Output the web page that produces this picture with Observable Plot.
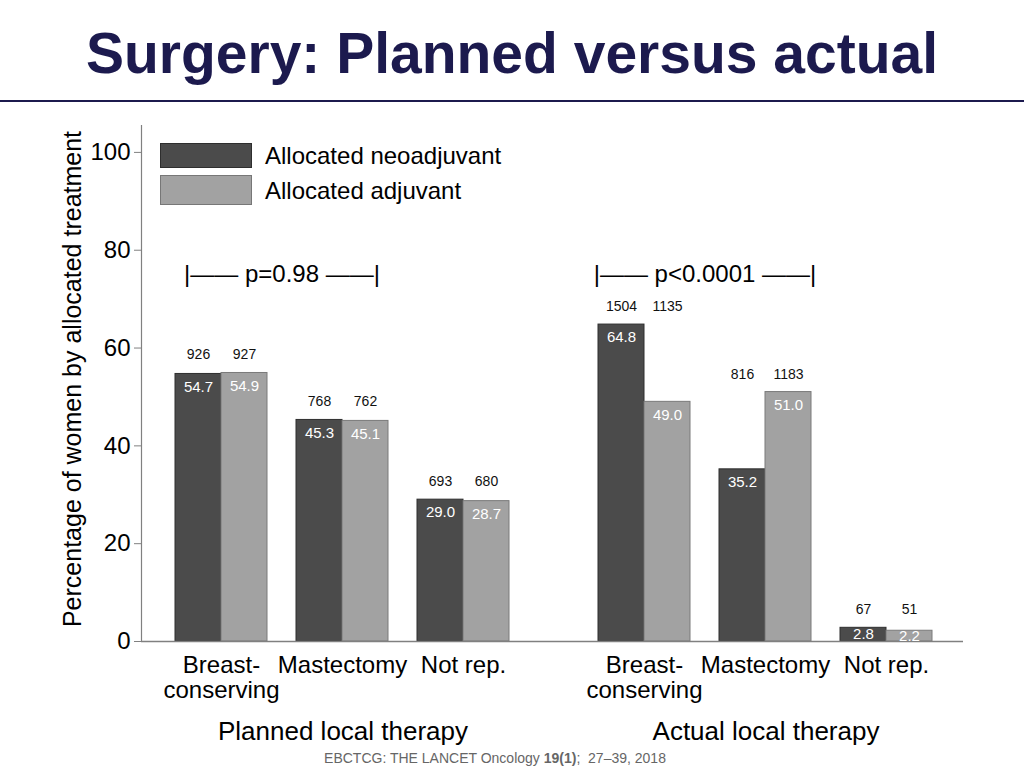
<!DOCTYPE html>
<html><head><meta charset="utf-8">
<script src="https://cdn.jsdelivr.net/npm/d3@7"></script>
<script src="https://cdn.jsdelivr.net/npm/@observablehq/plot@0.6"></script>
<style>
body{margin:0;background:#fff;font-family:"Liberation Sans",Arial,sans-serif;}
#page{position:relative;width:1024px;height:768px;overflow:hidden;background:#fff;}
#chart{position:absolute;left:0;top:0;}
#title{position:absolute;left:0;top:21px;width:1024px;text-align:center;font-size:57px;font-weight:bold;color:#1c1a4e;line-height:64px;}
#hr{position:absolute;left:0;top:100px;width:1024px;height:2px;background:#1c1a4e;}
#ylabel{position:absolute;left:-188px;top:364px;width:520px;height:30px;line-height:30px;text-align:center;font-size:25px;color:#000;transform:rotate(-90deg);transform-origin:50% 50%;white-space:nowrap;}
.lg-box{position:absolute;left:160px;width:92px;box-sizing:border-box;}
.lg-txt{position:absolute;left:265px;font-size:24px;line-height:28px;color:#000;white-space:nowrap;}
#caption{position:absolute;left:0;top:750px;width:990px;text-align:center;font-size:14px;line-height:16px;color:#666;}
</style>
</head><body>
<div id="page">
  <div id="chart"></div>
  <div id="title">Surgery: Planned versus actual</div>
  <div id="hr"></div>
  <div id="ylabel">Percentage of women by allocated treatment</div>
  <div class="lg-box" style="top:143px;height:25px;background:#4b4b4b;border:1px solid #2e2e2e;"></div>
  <div class="lg-box" style="top:175px;height:30px;background:#a2a2a2;border:1px solid #777;"></div>
  <div class="lg-txt" style="top:142px;">Allocated neoadjuvant</div>
  <div class="lg-txt" style="top:177px;">Allocated adjuvant</div>
  <div id="caption">EBCTCG: THE LANCET Oncology <b>19(1)</b>;&nbsp; 27–39, 2018</div>
</div>
<script>
// ---- data ----
const groups = ["Planned local therapy", "Actual local therapy"];
const categories = ["Breast-\nconserving", "Mastectomy", "Not rep."];
const seriesNames = ["Allocated neoadjuvant", "Allocated adjuvant"];
const plannedNeo = [54.7, 45.3, 29.0];
const plannedAdj = [54.9, 45.1, 28.7];
const actualNeo = [64.8, 35.2, 2.8];
const actualAdj = [49.0, 51.0, 2.2];
const plannedNeoN = [926, 768, 693];
const plannedAdjN = [927, 762, 680];
const actualNeoN = [1504, 816, 67];
const actualAdjN = [1135, 1183, 51];
const pValues = ["p=0.98", "p<0.0001"];
const yTicks = [0, 20, 40, 60, 80, 100];

// ---- build table ----
const pct = [[plannedNeo, plannedAdj], [actualNeo, actualAdj]];
const cnt = [[plannedNeoN, plannedAdjN], [actualNeoN, actualAdjN]];
const rows = [];
groups.forEach((g, gi) => {
  categories.forEach((c, ci) => {
    const pairMax = Math.max(pct[gi][0][ci], pct[gi][1][ci]);
    seriesNames.forEach((s, si) => {
      rows.push({group: g, category: c, series: s, value: pct[gi][si][ci], n: cnt[gi][si][ci], pairMax});
    });
  });
});
const neo = rows.filter(d => d.series === seriesNames[0]);
const adj = rows.filter(d => d.series === seriesNames[1]);
const catRows = groups.flatMap(g => categories.map(c => ({group: g, category: c})));
const pRows = groups.map((g, i) => ({group: g, category: categories[0], label: "|\u2014\u2014 " + pValues[i] + " \u2014\u2014|"}));

const DARK = "#4b4b4b", LIGHT = "#a2a2a2";
const FONT = "'Liberation Sans', Arial, sans-serif";

function makePlot(bw, step, gap) {
  const half = bw / 2, q = bw / 4;
  const valueLabel = (data, dx) => [
    Plot.text(data.filter(d => d.value >= 5), {fx: "group", x: "category", y: "value", text: d => d.value.toFixed(1), dx, dy: 13, fill: "white", fontSize: 15}),
    Plot.text(data.filter(d => d.value < 5), {fx: "group", x: "category", y: d => d.value / 2, text: d => d.value.toFixed(1), dx, fill: "white", fontSize: 15})
  ];
  return Plot.plot({
    width: 1024, height: 768,
    marginLeft: 141, marginRight: 57, marginTop: 125, marginBottom: 127,
    style: {fontFamily: FONT, fontSize: "24px", color: "black", background: "transparent", overflow: "visible"},
    fx: {domain: groups, paddingInner: 0.0473, paddingOuter: 0, axis: null, label: null},
    x: {domain: categories, paddingInner: 0.2365, paddingOuter: 0.282, axis: null, label: null},
    y: {domain: [0, 105.5], axis: null, label: null},
    marks: [
      Plot.barY(neo, {fx: "group", x: "category", y: "value", fill: DARK, stroke: "#2e2e2e", strokeWidth: 1, insetRight: half}),
      Plot.barY(adj, {fx: "group", x: "category", y: "value", fill: LIGHT, stroke: "#7a7a7a", strokeWidth: 1, insetLeft: half}),
      Plot.ruleY([groups[0]], {fx: d => d, y: 0, stroke: "#808080", strokeWidth: 1.5, insetRight: -gap}),
      Plot.ruleY([groups[1]], {fx: d => d, y: 0, stroke: "#808080", strokeWidth: 1.5, insetRight: 4}),
      Plot.frame({anchor: "left", stroke: "#808080", strokeWidth: 1.2, facetAnchor: "left"}),
      Plot.axisY({ticks: yTicks, tickSize: 7, tickPadding: 4, stroke: "#808080", fill: "black", fontSize: 24, label: null}),
      Plot.text(neo, {fx: "group", x: "category", y: "pairMax", text: d => String(d.n), dx: -q, dy: -18, fontSize: 14, fill: "#111"}),
      Plot.text(adj, {fx: "group", x: "category", y: "pairMax", text: d => String(d.n), dx: q, dy: -18, fontSize: 14, fill: "#111"}),
      ...valueLabel(neo, -q),
      ...valueLabel(adj, q),
      Plot.text(pRows, {fx: "group", x: "category", y: 75, text: "label", dx: step / 2, fontSize: 24, fill: "black"}),
      Plot.text(catRows, {fx: "group", x: "category", text: "category", frameAnchor: "bottom", lineAnchor: "top", dy: 14, lineHeight: 1.04, fontSize: 24, fill: "black"}),
      Plot.text(groups, {fx: d => d, text: d => d, frameAnchor: "bottom", lineAnchor: "middle", dy: 90, fontSize: 26, fill: "black"})
    ]
  });
}

const probe = makePlot(0, 0, 0);
const xs = probe.scale("x");
const fxs = probe.scale("fx");
const facetGap = fxs.step - fxs.bandwidth;
const chart = makePlot(xs.bandwidth, xs.step, facetGap);
document.getElementById("chart").appendChild(chart);
</script>
</body></html>
